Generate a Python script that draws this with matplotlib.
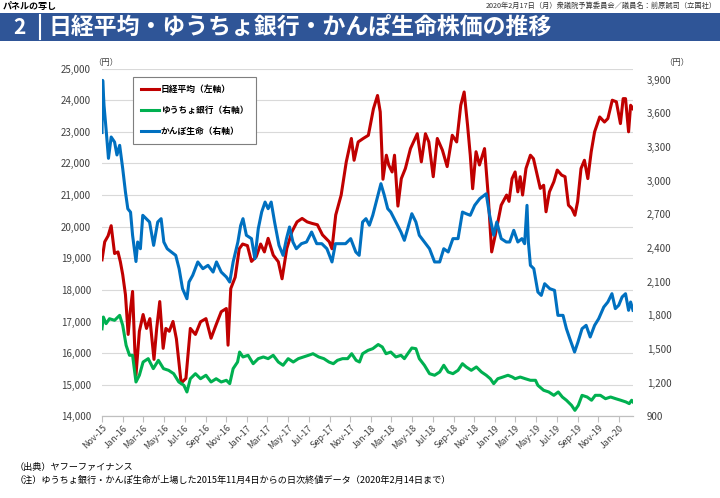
import matplotlib
matplotlib.use("Agg")
import matplotlib.pyplot as plt
import matplotlib.dates as mdates
from matplotlib.patches import Rectangle
from matplotlib.lines import Line2D
import pandas as pd

plt.rcParams['font.family'] = ['Noto Sans CJK JP', 'DejaVu Sans']

# Nikkei 225 (left axis)
nikkei_dates = [
    "2015-11-04", "2015-11-12", "2015-11-22", "2015-12-01", "2015-12-11", "2015-12-21", "2015-12-28",
    "2016-01-04", "2016-01-12", "2016-01-20", "2016-01-26", "2016-02-02", "2016-02-08", "2016-02-12",
    "2016-02-22", "2016-03-04", "2016-03-14", "2016-03-24", "2016-04-05", "2016-04-13", "2016-04-22",
    "2016-05-02", "2016-05-10", "2016-05-20", "2016-05-31", "2016-06-10", "2016-06-24", "2016-07-08",
    "2016-07-21", "2016-08-05", "2016-08-20", "2016-09-05", "2016-09-20", "2016-10-05", "2016-10-20",
    "2016-11-04", "2016-11-09", "2016-11-17", "2016-11-30", "2016-12-12", "2016-12-22", "2017-01-05",
    "2017-01-17", "2017-01-31", "2017-02-13", "2017-02-24", "2017-03-07", "2017-03-22", "2017-04-06",
    "2017-04-17", "2017-05-01", "2017-05-16", "2017-05-31", "2017-06-15", "2017-06-30", "2017-07-15",
    "2017-07-30", "2017-08-14", "2017-09-03", "2017-09-11", "2017-09-22", "2017-10-08", "2017-10-23",
    "2017-11-07", "2017-11-15", "2017-11-27", "2017-12-12", "2017-12-27", "2018-01-11", "2018-01-23",
    "2018-01-31", "2018-02-08", "2018-02-18", "2018-02-25", "2018-03-07", "2018-03-14", "2018-03-24",
    "2018-04-03", "2018-04-15", "2018-04-30", "2018-05-20", "2018-06-01", "2018-06-13", "2018-06-23",
    "2018-07-06", "2018-07-18", "2018-08-02", "2018-08-16", "2018-08-31", "2018-09-13", "2018-09-25",
    "2018-10-05", "2018-10-15", "2018-10-23", "2018-10-30", "2018-11-09", "2018-11-19", "2018-12-04",
    "2018-12-14", "2018-12-25", "2019-01-04", "2019-01-22", "2019-02-07", "2019-02-14", "2019-02-23",
    "2019-03-04", "2019-03-12", "2019-03-19", "2019-03-26", "2019-04-05", "2019-04-18", "2019-04-27",
    "2019-05-08", "2019-05-17", "2019-05-27", "2019-06-03", "2019-06-13", "2019-06-26", "2019-07-06",
    "2019-07-19", "2019-07-29", "2019-08-08", "2019-08-18", "2019-08-27", "2019-09-04", "2019-09-14",
    "2019-09-24", "2019-10-04", "2019-10-14", "2019-10-24", "2019-11-08", "2019-11-22", "2019-12-02",
    "2019-12-15", "2019-12-27", "2020-01-08", "2020-01-16", "2020-01-23", "2020-02-01", "2020-02-07",
    "2020-02-14",
]
nikkei = [
    18950, 19520, 19710, 20030, 19150, 19200, 18890,
    18480, 17850, 16590, 17310, 17950, 16270, 15300,
    16690, 17220, 16780, 17090, 15800, 16780, 17630,
    16150, 16780, 16690, 17000, 16450, 15050, 15200,
    16780, 16590, 16990, 17090, 16470, 16900, 17310,
    17410, 16250, 18040, 18400, 19300, 19450, 19400,
    18900, 19050, 19450, 19200, 19630, 19100, 18890,
    18350, 19310, 19840, 20150, 20260, 20150, 20100,
    20060, 19740, 19520, 19300, 20370, 21000, 22050,
    22790, 22100, 22680, 22790, 22890, 23730, 24150,
    23630, 21500, 22260, 21950, 21730, 22260, 20650,
    21520, 21840, 22470, 22940, 22050, 22940, 22680,
    21580, 22790, 22420, 21900, 22890, 22680, 23840,
    24260, 23210, 22260, 21200, 22370, 21950, 22470,
    21100, 19200, 19700, 20680, 21000, 20800, 21520,
    21730, 21100, 21580, 21000, 21840, 22260, 22150,
    21630, 21210, 21310, 20470, 21100, 21420, 21790,
    21630, 21580, 20680, 20570, 20360, 20790, 21840,
    22100, 21520, 22370, 23000, 23470, 23310, 23420,
    24000, 23950, 23260, 24050, 24050, 23000, 23840,
    23730,
]

# Japan Post Insurance / かんぽ生命 (right axis)
kampo_dates = [
    "2015-11-04", "2015-11-06", "2015-11-10", "2015-11-16", "2015-11-23", "2015-12-01", "2015-12-11",
    "2015-12-18", "2015-12-26", "2016-01-04", "2016-01-12", "2016-01-19", "2016-01-27", "2016-02-02",
    "2016-02-12", "2016-02-17", "2016-02-25", "2016-03-03", "2016-03-13", "2016-03-23", "2016-04-04",
    "2016-04-16", "2016-04-26", "2016-05-04", "2016-05-14", "2016-05-26", "2016-06-08", "2016-06-18",
    "2016-06-28", "2016-07-11", "2016-07-17", "2016-07-28", "2016-08-12", "2016-08-27", "2016-09-11",
    "2016-09-26", "2016-10-06", "2016-10-20", "2016-11-04", "2016-11-14", "2016-11-24", "2016-12-08",
    "2016-12-16", "2016-12-23", "2017-01-02", "2017-01-17", "2017-01-27", "2017-02-06", "2017-02-16",
    "2017-02-26", "2017-03-07", "2017-03-16", "2017-03-26", "2017-04-08", "2017-04-20", "2017-04-30",
    "2017-05-09", "2017-05-19", "2017-05-29", "2017-06-13", "2017-06-28", "2017-07-13", "2017-07-28",
    "2017-08-12", "2017-08-27", "2017-09-11", "2017-09-21", "2017-10-06", "2017-10-21", "2017-11-05",
    "2017-11-20", "2017-11-30", "2017-12-10", "2017-12-20", "2017-12-30", "2018-01-09", "2018-01-19",
    "2018-02-02", "2018-02-12", "2018-02-22", "2018-03-03", "2018-03-13", "2018-03-23", "2018-04-02",
    "2018-04-12", "2018-04-22", "2018-05-04", "2018-05-16", "2018-05-26", "2018-06-10", "2018-06-25",
    "2018-07-10", "2018-07-25", "2018-08-06", "2018-08-19", "2018-09-02", "2018-09-17", "2018-09-30",
    "2018-10-11", "2018-10-23", "2018-11-05", "2018-11-20", "2018-12-09", "2018-12-19", "2018-12-31",
    "2019-01-09", "2019-01-22", "2019-02-06", "2019-02-16", "2019-02-28", "2019-03-12", "2019-03-24",
    "2019-04-01", "2019-04-08", "2019-04-12", "2019-04-18", "2019-04-28", "2019-05-10", "2019-05-20",
    "2019-05-30", "2019-06-14", "2019-06-28", "2019-07-08", "2019-07-23", "2019-08-02", "2019-08-12",
    "2019-08-26", "2019-09-05", "2019-09-17", "2019-09-29", "2019-10-11", "2019-10-24", "2019-11-05",
    "2019-11-20", "2019-12-02", "2019-12-14", "2019-12-24", "2020-01-03", "2020-01-13", "2020-01-23",
    "2020-02-01", "2020-02-07", "2020-02-14",
]
kampo = [
    3430, 3895, 3670, 3460, 3200, 3390, 3345,
    3230, 3316, 3108, 2900, 2750, 2720, 2514,
    2280, 2454, 2394, 2692, 2662, 2632, 2424,
    2632, 2662, 2454, 2394, 2365, 2335, 2216,
    2038, 1948, 2097, 2157, 2276, 2216, 2246,
    2186, 2276, 2186, 2142, 2097, 2276, 2454,
    2600, 2662, 2514, 2484, 2305, 2573, 2721,
    2810, 2751, 2810, 2632, 2424, 2335, 2484,
    2588, 2454, 2394, 2439, 2454, 2543, 2439,
    2439, 2394, 2276, 2439, 2439, 2439, 2484,
    2365, 2335, 2632, 2662, 2603, 2692, 2810,
    2974, 2870, 2751, 2721, 2662, 2603, 2543,
    2469, 2573, 2706, 2632, 2514, 2454, 2394,
    2276, 2276, 2394, 2365, 2484, 2484, 2721,
    2706, 2692, 2781, 2840, 2884, 2692, 2514,
    2632, 2484, 2454, 2454, 2558, 2454, 2484,
    2439, 2781, 2454, 2246, 2216, 2008, 1978,
    2082, 2038, 2023, 1800, 1800, 1681, 1592,
    1473, 1562, 1681, 1711, 1607, 1711, 1770,
    1874, 1919, 1993, 1860, 1890, 1964, 1993,
    1845, 1919, 1845,
]

# Japan Post Bank / ゆうちょ銀行 (right axis)
yucho_dates = [
    "2015-11-04", "2015-11-08", "2015-11-16", "2015-11-26", "2015-12-11", "2015-12-26", "2016-01-04",
    "2016-01-14", "2016-01-24", "2016-02-02", "2016-02-12", "2016-02-22", "2016-03-04", "2016-03-19",
    "2016-04-03", "2016-04-18", "2016-05-03", "2016-05-18", "2016-06-02", "2016-06-17", "2016-07-02",
    "2016-07-11", "2016-07-21", "2016-08-05", "2016-08-20", "2016-09-05", "2016-09-20", "2016-10-05",
    "2016-10-20", "2016-11-04", "2016-11-14", "2016-11-24", "2016-12-07", "2016-12-13", "2016-12-23",
    "2017-01-07", "2017-01-22", "2017-02-06", "2017-02-21", "2017-03-07", "2017-03-22", "2017-04-06",
    "2017-04-20", "2017-05-05", "2017-05-20", "2017-06-04", "2017-06-19", "2017-07-04", "2017-07-17",
    "2017-08-03", "2017-08-18", "2017-09-02", "2017-09-15", "2017-09-27", "2017-10-12", "2017-10-27",
    "2017-11-08", "2017-11-21", "2017-12-01", "2017-12-10", "2017-12-26", "2018-01-09", "2018-01-25",
    "2018-02-06", "2018-02-17", "2018-03-03", "2018-03-18", "2018-04-02", "2018-04-12", "2018-04-22",
    "2018-05-04", "2018-05-16", "2018-05-26", "2018-06-10", "2018-06-25", "2018-07-10", "2018-07-25",
    "2018-08-06", "2018-08-19", "2018-09-02", "2018-09-17", "2018-09-30", "2018-10-11", "2018-10-26",
    "2018-11-10", "2018-11-25", "2018-12-09", "2018-12-21", "2018-12-31", "2019-01-12", "2019-01-27",
    "2019-02-11", "2019-02-24", "2019-03-04", "2019-03-19", "2019-04-03", "2019-04-18", "2019-05-03",
    "2019-05-10", "2019-05-27", "2019-06-11", "2019-06-26", "2019-07-09", "2019-07-21", "2019-08-02",
    "2019-08-17", "2019-08-27", "2019-09-06", "2019-09-17", "2019-10-02", "2019-10-15", "2019-10-26",
    "2019-11-10", "2019-11-25", "2019-12-10", "2019-12-25", "2020-01-09", "2020-01-24", "2020-02-03",
    "2020-02-10", "2020-02-14",
]
yucho = [
    1680, 1785, 1726, 1770, 1756, 1800, 1711,
    1533, 1444, 1444, 1206, 1266, 1384, 1414,
    1325, 1399, 1325, 1310, 1280, 1206, 1176,
    1117, 1235, 1280, 1235, 1266, 1206, 1235,
    1206, 1221, 1191, 1325, 1384, 1473, 1429,
    1444, 1369, 1414, 1429, 1414, 1444, 1384,
    1355, 1414, 1384, 1414, 1429, 1444, 1458,
    1429, 1414, 1384, 1369, 1399, 1414, 1414,
    1458, 1399, 1384, 1458, 1488, 1503, 1540,
    1518, 1458, 1473, 1429, 1444, 1414, 1458,
    1509, 1503, 1414, 1355, 1280, 1266, 1295,
    1355, 1295, 1280, 1310, 1369, 1340, 1310,
    1340, 1295, 1266, 1235, 1191, 1235, 1250,
    1266, 1250, 1235, 1250, 1235, 1221, 1221,
    1176, 1132, 1117, 1087, 1117, 1072, 1043,
    998, 953, 998, 1087, 1072, 1043, 1087,
    1087, 1057, 1072, 1057, 1043, 1028, 1013,
    1043, 1028,
]

legend_labels = ["日経平均（左軸）", "ゆうちょ銀行（右軸）", "かんぽ生命（右軸）"]
tick_dates = pd.date_range("2015-11-01", "2020-02-14", freq="2MS") + pd.Timedelta(days=3)

red, green, blue = "#C00000", "#00B050", "#0070C0"

fig = plt.figure(figsize=(7.2, 4.98), dpi=100)

# header
fig.text(3 / 720, 1 - 6 / 498, "パネルの写し", fontsize=6.5, fontweight="bold", va="center", ha="left")
fig.text(717 / 720, 1 - 6 / 498, "2020年2月17日（月）衆議院予算委員会／議員名：前原誠司（立国社）",
         fontsize=5.2, va="center", ha="right", color="#333333")
fig.patches.append(Rectangle((0, 1 - 41 / 498), 1, 28 / 498, transform=fig.transFigure,
                             facecolor="#2F5597", edgecolor="none", zorder=0))
fig.add_artist(Line2D([40 / 720, 40 / 720], [1 - 39 / 498, 1 - 15 / 498], transform=fig.transFigure,
                      color="white", lw=1.5))
fig.text(19 / 720, 1 - 27.5 / 498, "2", fontsize=15, fontweight="bold", color="white", va="center", ha="center")
fig.text(48 / 720, 1 - 27.5 / 498, "日経平均・ゆうちょ銀行・かんぽ生命株価の推移",
         fontsize=16.5, fontweight="bold", color="white", va="center", ha="left")

ax = fig.add_axes([102 / 720, 1 - 416.3 / 498, 531 / 720, 347.7 / 498])
ax2 = ax.twinx()

ln1, = ax.plot(pd.to_datetime(nikkei_dates), nikkei, color=red, lw=2.2, solid_joinstyle="round")
ln2, = ax2.plot(pd.to_datetime(yucho_dates), yucho, color=green, lw=2.2, solid_joinstyle="round")
ln3, = ax2.plot(pd.to_datetime(kampo_dates), kampo, color=blue, lw=2.2, solid_joinstyle="round")

ax.set_xlim(pd.Timestamp("2015-11-04"), pd.Timestamp("2020-02-14"))
ax.set_ylim(14000, 25000)
ax.set_yticks(range(14000, 25001, 1000))
ax.yaxis.set_major_formatter(plt.FuncFormatter(lambda v, p: f"{int(v):,}"))
ax2.set_ylim(900, 4000)
ax2.set_yticks(range(900, 3901, 300))
ax2.yaxis.set_major_formatter(plt.FuncFormatter(lambda v, p: f"{int(v):,}"))

ax.grid(axis="y", color="#D9D9D9", lw=0.8)
ax.set_axisbelow(True)
for a in (ax, ax2):
    for s in ("top", "left", "right"):
        a.spines[s].set_visible(False)
    a.spines["bottom"].set_color("#BFBFBF")
ax.tick_params(axis="y", length=0, labelsize=7, colors="#404040", pad=8)
ax2.tick_params(axis="y", length=0, labelsize=7, colors="#404040", pad=10)

ax.set_xticks(tick_dates)
ax.xaxis.set_major_formatter(mdates.DateFormatter("%b-%y"))
ax.tick_params(axis="x", length=4, color="#BFBFBF", labelsize=6.5, labelcolor="#404040", pad=1)
for lab in ax.get_xticklabels():
    lab.set_rotation(45)
    lab.set_ha("right")
    lab.set_va("top")
    lab.set_rotation_mode("anchor")

fig.text(93 / 720, 1 - 63 / 498, "（円）", fontsize=6, color="#404040", va="center", ha="left")
fig.text(664 / 720, 1 - 63 / 498, "（円）", fontsize=6, color="#404040", va="center", ha="left")

leg = ax2.legend([ln1, ln2, ln3], legend_labels, loc="upper left",
                 bbox_to_anchor=(133 / 720, 1 - 77 / 498), bbox_transform=fig.transFigure,
                 fancybox=False, edgecolor="#7F7F7F", framealpha=1, fontsize=6.3,
                 handlelength=2.0, handletextpad=0.2, labelspacing=1.35, borderpad=0.95,
                 borderaxespad=0)
leg.get_frame().set_linewidth(0.8)
for t in leg.get_texts():
    t.set_fontweight("bold")

# footnotes
fig.text(15 / 720, 1 - 467 / 498, "（出典）ヤフーファイナンス", fontsize=6.6, va="center", ha="left")
fig.text(15 / 720, 1 - 480 / 498,
         "（注）ゆうちょ銀行・かんぽ生命が上場した2015年11月4日からの日次終値データ（2020年2月14日まで）",
         fontsize=6.6, va="center", ha="left")

fig.savefig("out.png", dpi=100)
